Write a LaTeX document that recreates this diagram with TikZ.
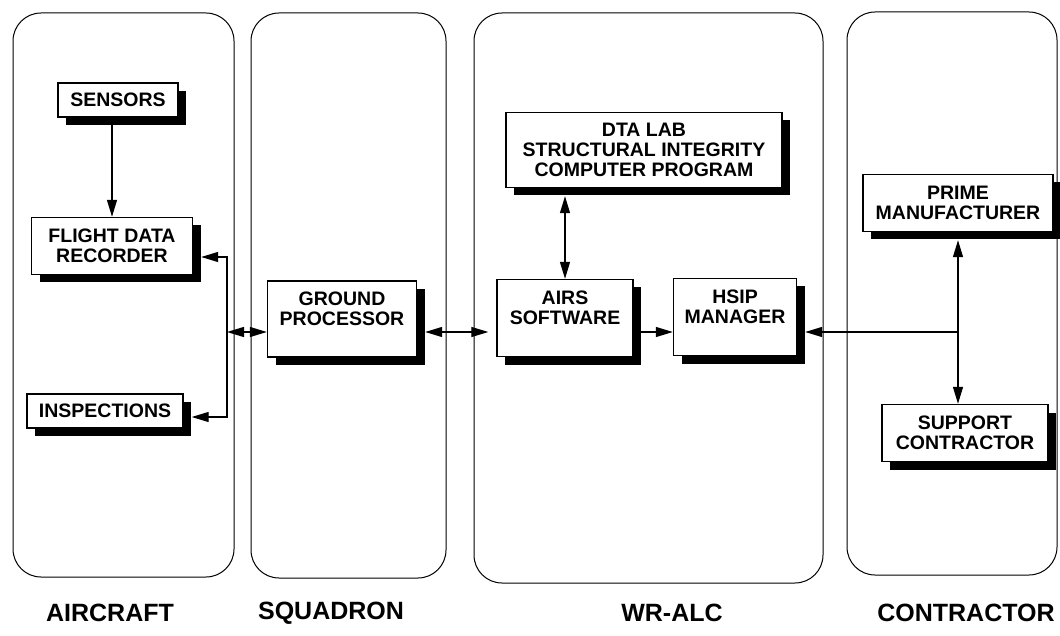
\documentclass[tikz,border=0pt]{standalone}
\usepackage{fontspec}
\setmainfont{Liberation Sans}
\usetikzlibrary{arrows.meta, shadows}

\begin{document}
\begin{tikzpicture}[x=1pt, y=-1pt, >={Triangle[length=17pt, width=10pt]},
        panel/.style={draw, line width=1pt, rounded corners=28pt},
        unit/.style={draw, fill=white, line width=1.4pt, inner sep=0pt, align=center,
            font=\fontsize{19.5}{20}\selectfont\bfseries,
            drop shadow={shadow xshift=8pt, shadow yshift=-8pt, fill=black, opacity=1}},
        site/.style={font=\fontsize{25}{25}\selectfont\bfseries},
        link/.style={line width=1.3pt}]
            \useasboundingbox (0,0) rectangle (1060,636);

            % panels
            \draw[panel] (13,13) rectangle (234,577);
            \draw[panel] (251,13) rectangle (446,578);
            \draw[panel] (474,13) rectangle (823,583);
            \draw[panel] (847,12) rectangle (1057,575);

            \node[site] (aircraft) at (110,613) {AIRCRAFT};
            \node[site] (squadron) at (331,613) {SQUADRON};
            \node[site] (wralc) at (672,613) {WR-ALC};
            \node[site] (contractor) at (966,613) {CONTRACTOR};

            % aircraft
            \node[unit, minimum width=120pt, minimum height=34pt] (sensors) at (118,100) {SENSORS};
            \node[unit, minimum width=161pt, minimum height=57pt] (recorder) at (112,246) {FLIGHT DATA\\RECORDER};
            \node[unit, minimum width=156pt, minimum height=34pt] (inspections) at (105,411) {INSPECTIONS};

            % squadron
            \node[unit, minimum width=149pt, minimum height=76pt] (ground) at (342,319) {GROUND\\PROCESSOR\\\mbox{}};

            % wr-alc
            \node[unit, minimum width=276pt, minimum height=75pt] (dtalab) at (644,150) {DTA LAB\\STRUCTURAL INTEGRITY\\COMPUTER PROGRAM};
            \node[unit, minimum width=136pt, minimum height=77pt] (airs) at (565,318) {AIRS\\SOFTWARE\\\mbox{}};
            \node[unit, minimum width=123pt, minimum height=77pt] (hsip) at (735,317) {HSIP\\MANAGER\\\mbox{}};

            % contractor
            \node[unit, minimum width=190pt, minimum height=57pt] (prime) at (958,203) {PRIME\\MANUFACTURER};
            \node[unit, minimum width=166pt, minimum height=57pt] (support) at (965,433) {SUPPORT\\CONTRACTOR};

            % links
            \coordinate (bus) at (227,332);
            \coordinate (hub) at (prime.south |- bus);
            \draw[link, ->] (sensors.south -| recorder.north) -- (recorder.north);
            \draw[link, ->, shorten >=8pt] (bus) |- ([yshift=-11pt]recorder.east);
            \draw[link, ->, shorten >=8pt] (bus) |- ([yshift=-6pt]inspections.east);
            \draw[link, <->] (bus) -- (bus -| ground.west);
            \draw[link, <->, shorten <=8pt, shorten >=8pt] (ground.east |- bus) -- (bus -| airs.west);
            \draw[link, <->, shorten <=8pt] (dtalab.south -| airs.north) -- (airs.north);
            \draw[link, ->] (airs.east |- bus) -- (bus -| hsip.west);
            \draw[link, ->, shorten >=8pt] (hub) -- (bus -| hsip.east);
            \draw[link, ->, shorten >=8pt] (hub) -- (prime.south);
            \draw[link, ->] (hub) -- (hub |- support.north);
\end{tikzpicture}
\end{document}
